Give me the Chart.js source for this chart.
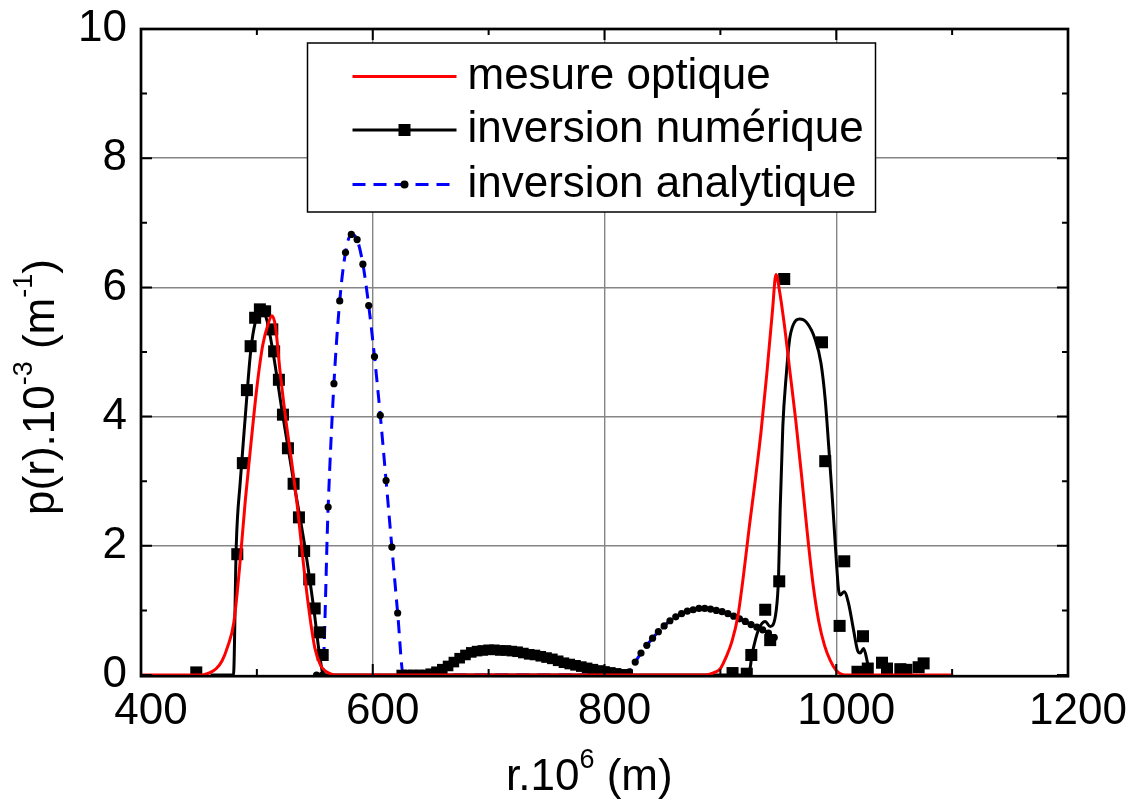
<!DOCTYPE html>
<html>
<head>
<meta charset="utf-8">
<title>p(r)</title>
<script src="https://cdn.jsdelivr.net/npm/chart.js@4.4.0/dist/chart.umd.min.js"></script>
<style>
  html, body { margin: 0; padding: 0; background: #fff; }
  #wrap { position: relative; width: 1136px; height: 802px; }
</style>
</head>
<body>
<div id="wrap"><canvas id="chart" width="1136" height="802"></canvas></div>
<script>
'use strict';

const FONT = "'Liberation Sans', Arial, Helvetica, sans-serif";

// axis ticks
const xMajorTicks = [400, 600, 800, 1000, 1200];
const xMinorTicks = [500, 700, 900, 1100];
const yMajorTicks = [0, 2, 4, 6, 8, 10];
const yMinorTicks = [1, 3, 5, 7, 9];

const legendLabels = ['mesure optique', 'inversion numérique', 'inversion analytique'];

// mesure optique (red)
const redX = [400, 450, 455, 460, 465, 470, 475, 480, 485, 490, 495, 500, 505, 510, 513, 516, 520, 525, 530, 535, 540, 545, 550, 555, 560, 565, 570,
  885, 890, 895, 900, 905, 910, 915, 920, 925, 930, 935, 940, 945, 948, 951, 955, 960, 965, 970, 975, 980, 985, 990, 995, 1000, 1005, 1010, 1100];
const redY = [0, 0, 0.01, 0.04, 0.1, 0.22, 0.45, 0.8, 1.65, 2.7, 3.6, 4.45, 5.1, 5.45, 5.56, 5.4, 4.7, 3.95, 3.3, 2.6, 1.75, 1.0, 0.42, 0.15, 0.05, 0.01, 0,
  0, 0.01, 0.04, 0.1, 0.28, 0.52, 0.9, 1.55, 2.3, 3.0, 3.75, 4.65, 5.65, 6.2, 5.95, 5.45, 4.7, 3.95, 3.1, 2.2, 1.4, 0.82, 0.45, 0.22, 0.07, 0.01, 0, 0];

// inversion numérique - smooth curve
const numLineX = [460, 479.8, 482.2, 485.7, 490, 494.6, 498.5, 503.8, 508.5, 513.9, 522.5, 531.7, 541.3, 549.3, 554.2, 557.7,
  924.2, 927.7, 932.9, 938.7, 943, 948.2, 950.2, 951.6, 953.9, 956.8, 959.7, 963.1, 968.3, 974.7, 981.9, 986.8, 990.5, 993.3,
  996.3, 999.1, 1002, 1003.5, 1006.9, 1010.6, 1014.9, 1018.4, 1020.7, 1023.6, 1026.5, 1028.8];
const numLineY = [0, 0, 2.0, 3.0, 4.0, 5.0, 5.45, 5.66, 5.5, 5.0, 4.0, 3.0, 2.0, 1.0, 0.3, 0,
  0, 0.35, 0.7, 0.83, 0.75, 1.0, 1.52, 2.56, 3.85, 4.63, 5.19, 5.43, 5.51, 5.45, 5.19, 4.83, 4.26, 3.59,
  2.82, 2.04, 1.32, 1.24, 1.29, 1.11, 0.7, 0.38, 0.34, 0.41, 0.23, 0];

// inversion numérique - square symbols
const numSqX = [447.7, 483.1, 487.9, 491.4, 494.6, 498.5, 502.6, 507.1, 513.3, 514.9, 519, 522.5, 526.8, 531.7, 536.3, 540.8, 545.2, 549.9, 554.2, 556.8,
  910.5, 922.8, 926.7, 938.7, 943, 950.8, 955.1, 987.7, 990.5, 1002.9, 1006.9, 1018.3, 1023.1, 1027.2, 1039.5, 1043.8, 1055.3, 1060.5, 1071.1, 1075.4];
const numSqY = [0.04, 1.87, 3.28, 4.41, 5.09, 5.53, 5.66, 5.63, 5.35, 5.01, 4.57, 4.03, 3.51, 2.96, 2.44, 1.92, 1.48, 1.03, 0.66, 0.31,
  0.03, 0.02, 0.31, 1.01, 0.54, 1.45, 6.13, 5.15, 3.31, 0.76, 1.76, 0.05, 0.6, 0.1, 0.19, 0.1, 0.09, 0.08, 0.12, 0.18];

// inversion numérique - dense symbols of the small hump
const humpX = [625, 630, 635, 640, 645, 650, 655, 660, 665, 670, 675, 680, 685, 690, 695, 700, 705, 710, 715, 720,
  725, 730, 735, 740, 745, 750, 755, 760, 765, 770, 775, 780, 785, 790, 795, 800, 805, 810, 815, 820];
const humpY = [0, 0, 0, 0, 0, 0.02, 0.05, 0.09, 0.14, 0.2, 0.26, 0.31, 0.35, 0.37, 0.38, 0.39, 0.39, 0.38, 0.38, 0.37,
  0.36, 0.34, 0.32, 0.31, 0.29, 0.27, 0.25, 0.22, 0.19, 0.17, 0.15, 0.13, 0.11, 0.09, 0.07, 0.055, 0.04, 0.025, 0.01, 0];

// inversion analytique (blue dashes, black dots)
const anaX = [551.5, 556.5, 561.5, 566.5, 571.5, 576.5, 581.5, 586.5, 591.5, 596.5, 601.5, 606.5, 611.5, 616.5, 621.5, 626.5,
  816.5, 821.5, 826.5, 831.5, 836.5, 841.5, 846.5, 851.5, 856.5, 861.5, 866.5, 871.5, 876.5, 881.5, 886.5, 891.5,
  896.5, 901.5, 906.5, 911.5, 916.5, 921.5, 926.5, 931.5, 936.5, 941.5, 946.5];
const anaY = [0, 0, 2.6, 4.51, 5.79, 6.54, 6.82, 6.74, 6.36, 5.72, 4.93, 4.02, 3.01, 1.98, 0.96, 0,
  0, 0.05, 0.2, 0.34, 0.46, 0.57, 0.67, 0.76, 0.84, 0.9, 0.95, 0.99, 1.01, 1.03, 1.03, 1.02,
  1.0, 0.98, 0.95, 0.91, 0.87, 0.83, 0.78, 0.74, 0.7, 0.65, 0.58];

const DASH = [13, 8];

function pts(xs, ys) {
  return xs.map((x, i) => ({ x: x, y: ys[i] }));
}

function drawRich(ctx, parts, x, y, size, supSize, supRise) {
  let cx = x;
  parts.forEach(p => {
    ctx.font = (p.sup ? supSize : size) + 'px ' + FONT;
    ctx.fillText(p.t, cx, p.sup ? y - supRise : y);
    cx += ctx.measureText(p.t).width;
  });
  return cx - x;
}

function richWidth(ctx, parts, size, supSize) {
  let w = 0;
  parts.forEach(p => {
    ctx.font = (p.sup ? supSize : size) + 'px ' + FONT;
    w += ctx.measureText(p.t).width;
  });
  return w;
}

// frame and inward ticks on all four sides
const framePlugin = {
  id: 'frame',
  afterDatasetsDraw(chart) {
    const { ctx, chartArea: a, scales } = chart;
    const xs = scales.x, ys = scales.y;
    ctx.save();
    ctx.strokeStyle = '#000';
    ctx.lineWidth = 2;
    ctx.beginPath();
    const tick = (px, len, vertical) => {
      if (vertical) {
        ctx.moveTo(px, a.bottom); ctx.lineTo(px, a.bottom - len);
        ctx.moveTo(px, a.top); ctx.lineTo(px, a.top + len);
      } else {
        ctx.moveTo(a.left, px); ctx.lineTo(a.left + len, px);
        ctx.moveTo(a.right, px); ctx.lineTo(a.right - len, px);
      }
    };
    xMajorTicks.forEach(v => tick(xs.getPixelForValue(v), 11, true));
    xMinorTicks.forEach(v => tick(xs.getPixelForValue(v), 6, true));
    yMajorTicks.forEach(v => tick(ys.getPixelForValue(v), 11, false));
    yMinorTicks.forEach(v => tick(ys.getPixelForValue(v), 6, false));
    ctx.stroke();
    ctx.lineWidth = 2.7;
    ctx.strokeRect(a.left, a.top, a.right - a.left, a.bottom - a.top + 1.2);
    ctx.restore();
  }
};

// boxed legend inside the plot + axis titles with superscripts
const annotPlugin = {
  id: 'annot',
  afterDraw(chart) {
    const { ctx, chartArea: a } = chart;
    ctx.save();

    const bx = a.left + 166.5, by = a.top + 14, bw = 568, bh = 169;
    ctx.fillStyle = '#fff';
    ctx.fillRect(bx, by, bw, bh);
    ctx.strokeStyle = '#000';
    ctx.lineWidth = 1.5;
    ctx.strokeRect(bx, by, bw, bh);

    const rows = [by + 33.5, by + 87, by + 141.5];
    const lx0 = bx + 45, lx1 = bx + 149, mid = (lx0 + lx1) / 2;

    ctx.lineWidth = 3;
    ctx.strokeStyle = '#ff0000';
    ctx.beginPath(); ctx.moveTo(lx0, rows[0]); ctx.lineTo(lx1, rows[0]); ctx.stroke();

    ctx.strokeStyle = '#000';
    ctx.beginPath(); ctx.moveTo(lx0, rows[1]); ctx.lineTo(lx1, rows[1]); ctx.stroke();
    ctx.fillStyle = '#000';
    ctx.fillRect(mid - 6, rows[1] - 6, 12, 12);

    ctx.strokeStyle = '#0000ff';
    ctx.setLineDash(DASH);
    ctx.beginPath(); ctx.moveTo(lx0, rows[2]); ctx.lineTo(lx1, rows[2]); ctx.stroke();
    ctx.setLineDash([]);
    ctx.fillStyle = '#000';
    ctx.beginPath(); ctx.arc(mid, rows[2], 4, 0, Math.PI * 2); ctx.fill();

    ctx.font = '44px ' + FONT;
    ctx.textBaseline = 'middle';
    ctx.textAlign = 'left';
    legendLabels.forEach((t, i) => ctx.fillText(t, bx + 160, rows[i]));

    // x axis title
    ctx.textBaseline = 'alphabetic';
    const xParts = [{ t: 'r.10' }, { t: '6', sup: true }, { t: ' (m)' }];
    drawRich(ctx, xParts, a.left + 365, 790, 44, 27, 22);

    // y axis title (rotated)
    const yParts = [{ t: 'p(r).10' }, { t: '-3', sup: true }, { t: ' (m' }, { t: '-1', sup: true }, { t: ')' }];
    const w = richWidth(ctx, yParts, 44, 27);
    ctx.translate(54, 387);
    ctx.rotate(-Math.PI / 2);
    drawRich(ctx, yParts, -w / 2, 0, 44, 27, 22);

    ctx.restore();
  }
};

const ctx = document.getElementById('chart').getContext('2d');
const chart = new Chart(ctx, {
  type: 'line',
  data: {
    datasets: [
      {
        label: legendLabels[0],
        data: pts(redX, redY),
        borderColor: '#ff0000',
        borderWidth: 3,
        pointRadius: 0,
        cubicInterpolationMode: 'monotone',
        order: 0
      },
      {
        label: legendLabels[1],
        data: pts(numLineX, numLineY),
        borderColor: '#000000',
        borderWidth: 3,
        pointRadius: 0,
        cubicInterpolationMode: 'monotone',
        order: 1
      },
      {
        label: 'numérique symbols',
        data: pts(numSqX, numSqY),
        showLine: false,
        pointStyle: 'rect',
        pointRadius: 8.5,
        pointBackgroundColor: '#000',
        pointBorderWidth: 0,
        order: 2
      },
      {
        label: 'numérique hump',
        data: pts(humpX, humpY),
        showLine: false,
        pointStyle: 'rect',
        pointRadius: 7.5,
        pointBackgroundColor: '#000',
        pointBorderWidth: 0,
        order: 2
      },
      {
        label: legendLabels[2],
        data: pts(anaX, anaY),
        borderColor: '#0000ff',
        borderWidth: 3,
        borderDash: DASH,
        pointRadius: 3.6,
        pointBackgroundColor: '#000',
        pointBorderWidth: 0,
        cubicInterpolationMode: 'monotone',
        order: 3
      }
    ]
  },
  options: {
    responsive: false,
    devicePixelRatio: 1,
    animation: false,
    events: [],
    layout: { padding: { top: 29, right: 68, left: 0, bottom: 0 } },
    plugins: { legend: { display: false }, tooltip: { enabled: false } },
    scales: {
      x: {
        type: 'linear',
        min: 400,
        max: 1200,
        border: { display: false },
        grid: {
          color: c => (c.tick && (c.tick.value === 400 || c.tick.value === 1200)) ? 'rgba(0,0,0,0)' : '#858585',
          lineWidth: 1.4,
          drawTicks: false
        },
        ticks: {
          stepSize: 200, color: '#000', font: { family: FONT, size: 44 }, padding: 10, labelOffset: 10, maxRotation: 0,
          callback: v => String(v)
        },
        afterFit: s => { s.height = 127; s.paddingLeft = 0; s.paddingRight = 0; }
      },
      y: {
        min: 0,
        max: 10,
        border: { display: false },
        grid: {
          color: c => (c.tick && (c.tick.value === 0 || c.tick.value === 10)) ? 'rgba(0,0,0,0)' : '#858585',
          lineWidth: 1.4,
          drawTicks: false
        },
        ticks: { stepSize: 2, color: '#000', font: { family: FONT, size: 44 }, padding: 14, callback: v => String(v) },
        afterFit: s => { s.width = 141; s.paddingTop = 0; s.paddingBottom = 0; }
      }
    }
  },
  plugins: [framePlugin, annotPlugin]
});
</script>
</body>
</html>
